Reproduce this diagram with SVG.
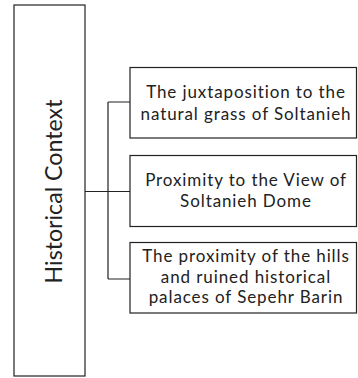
<svg xmlns="http://www.w3.org/2000/svg" width="358" height="378" viewBox="0 0 358 378">
<style>
.box{fill:#fff;stroke:#222;stroke-width:1.2}
.t{font-family:Lato,"Open Sans",sans-serif;font-size:17px;letter-spacing:0.9px;fill:#222;text-anchor:middle}
.big{font-family:Lato,"Open Sans",sans-serif;font-size:23.2px;fill:#222;text-anchor:middle}
.c{fill:none;stroke:#222;stroke-width:1.2}
</style>
<rect width="358" height="378" fill="#fff"/>
<g id="connectors">
<path class="c" d="M85 191.5H130M108 102V279M108 102H130M108 279H130"/>
</g>
<g id="historical-context">
<rect class="box" x="14" y="5" width="71" height="371"/>
<text class="big" transform="translate(61.5,191.5) rotate(-90)">Historical Context</text>
</g>
<g id="node1">
<rect class="box" x="130" y="67.5" width="226.5" height="70.5"/>
<text class="t" x="246" y="98">The juxtaposition to the</text>
<text class="t" x="246" y="120">natural grass of Soltanieh</text>
</g>
<g id="node2">
<rect class="box" x="130" y="155.5" width="226.5" height="71"/>
<text class="t" x="246" y="185.5">Proximity to the View of</text>
<text class="t" x="246" y="207">Soltanieh Dome</text>
</g>
<g id="node3">
<rect class="box" x="130" y="242.5" width="226.5" height="70.5"/>
<text class="t" x="246" y="262">The proximity of the hills</text>
<text class="t" x="246" y="282.5">and ruined historical</text>
<text class="t" x="246" y="303">palaces of Sepehr Barin</text>
</g>
</svg>
